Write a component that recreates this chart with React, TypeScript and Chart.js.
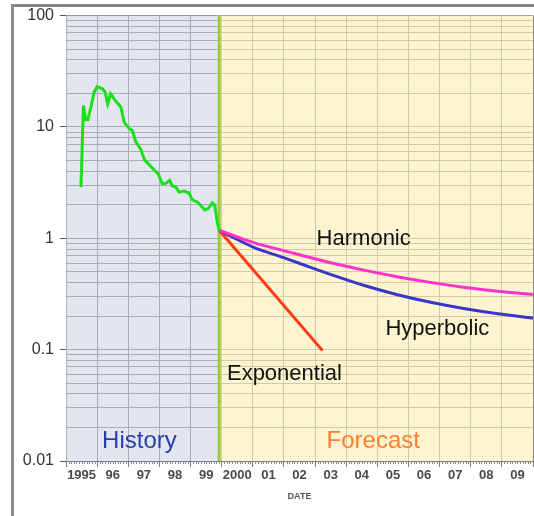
import React, { useEffect, useRef } from "react";
import { Chart, registerables } from "chart.js";

Chart.register(...registerables);

const FONT = '"Liberation Sans", Arial, Helvetica, sans-serif';

// X axis: year boundaries and their labels (label sits in the middle of each year)
const yearTicks = [1995, 1996, 1997, 1998, 1999, 2000, 2001, 2002, 2003, 2004, 2005, 2006, 2007, 2008, 2009, 2010];
const yearLabels = ["1995", "96", "97", "98", "99", "2000", "01", "02", "03", "04", "05", "06", "07", "08", "09", ""];

// Y axis: log decades and labels
const yDecades = [0.01, 0.1, 1, 10, 100];
const yDecadeLabels = ["0.01", "0.1", "1", "10", "100"];
const yMinorSteps = [1, 2, 3, 4, 5, 6, 7, 8, 9];

// Boundary between history and forecast
const forecastStart = 1999.92;

// History (green)
const historyYears = [
  1995.48, 1995.56, 1995.63, 1995.7, 1995.8, 1995.9, 1996.0, 1996.06, 1996.17, 1996.26, 1996.34, 1996.43,
  1996.58, 1996.68, 1996.76, 1996.87, 1997.03, 1997.13, 1997.24, 1997.4, 1997.53, 1997.64, 1997.83, 1997.96,
  1998.09, 1998.22, 1998.33, 1998.41, 1998.52, 1998.63, 1998.79, 1998.95, 1999.05, 1999.21, 1999.32, 1999.46,
  1999.57, 1999.7, 1999.78, 1999.86, 1999.92,
];
const historyRates = [
  2.88, 15.6, 11.6, 11.6, 15.1, 20.5, 23.0, 22.7, 22.0, 20.5, 16.1, 19.9,
  17.3, 16.1, 15.1, 11.0, 9.7, 9.3, 7.4, 6.3, 5.0, 4.7, 4.1, 3.8,
  3.1, 3.13, 3.31, 2.95, 2.9, 2.6, 2.66, 2.55, 2.22, 2.12, 1.98, 1.8,
  1.85, 2.08, 1.98, 1.4, 1.18,
];

// Forecasts
const exponentialYears = [1999.92, 2003.24];
const exponentialRates = [1.18, 0.098];

const hyperbolicYears = [1999.92, 2000.5, 2001.03, 2001.99, 2002.47, 2003.54, 2004.61, 2005.68, 2006.75, 2007.82, 2008.88, 2010];
const hyperbolicRates = [1.18, 0.975, 0.83, 0.67, 0.6, 0.47, 0.375, 0.31, 0.265, 0.233, 0.21, 0.192];

const harmonicYears = [1999.92, 2000.5, 2001.03, 2001.99, 2002.47, 2003.54, 2004.61, 2005.68, 2006.75, 2007.82, 2008.88, 2010];
const harmonicRates = [1.18, 1.03, 0.915, 0.775, 0.715, 0.6, 0.515, 0.45, 0.4, 0.362, 0.335, 0.313];

// Text annotations (anchored at data coordinates: left / baseline)
const noteTexts = ["Harmonic", "Hyperbolic", "Exponential", "History", "Forecast"];
const noteYears = [2003.05, 2005.26, 2000.17, 1996.16, 2003.37];
const noteRates = [0.865, 0.135, 0.0532, 0.0131, 0.0131];
const noteColors = ["#111111", "#111111", "#111111", "#2b3ea6", "#ff7f2a"];
const noteSizes = [22, 22, 22, 24, 24];

const toPoints = (xs: number[], ys: number[]) => xs.map((x, i) => ({ x, y: ys[i] }));

const isDecade = (v: number) => Math.abs(Math.log10(v) - Math.round(Math.log10(v))) < 1e-6;

export default function App() {
  const ref = useRef<HTMLCanvasElement | null>(null);

  useEffect(() => {
    if (!ref.current) return;

    const decorPlugin = {
      id: "decor",
      beforeDatasetsDraw(chart: any) {
        const { ctx, chartArea: a, scales } = chart;
        const xs = scales.x.getPixelForValue(forecastStart);
        ctx.save();
        ctx.fillStyle = "rgba(197,205,225,0.5)";
        ctx.fillRect(a.left, a.top, xs - a.left, a.bottom - a.top);
        ctx.fillStyle = "rgba(252,238,183,0.64)";
        ctx.fillRect(xs, a.top, a.right - xs, a.bottom - a.top);
        ctx.strokeStyle = "#9acd32";
        ctx.lineWidth = 3;
        ctx.beginPath();
        ctx.moveTo(xs, a.top);
        ctx.lineTo(xs, a.bottom);
        ctx.stroke();
        ctx.restore();
      },
      afterDatasetsDraw(chart: any) {
        const { ctx, scales } = chart;
        ctx.save();
        ctx.textAlign = "left";
        ctx.textBaseline = "alphabetic";
        noteTexts.forEach((t, i) => {
          ctx.font = `${noteSizes[i]}px ${FONT}`;
          ctx.fillStyle = noteColors[i];
          ctx.fillText(t, scales.x.getPixelForValue(noteYears[i]), scales.y.getPixelForValue(noteRates[i]));
        });
        ctx.restore();
      },
      afterDraw(chart: any) {
        const { ctx, chartArea: a, scales } = chart;
        ctx.save();
        ctx.strokeStyle = "#8a8a8a";
        ctx.lineWidth = 1;
        ctx.beginPath();
        for (let y = 0; y < yearTicks.length - 1; y++) {
          for (let m = 1; m < 12; m++) {
            const px = Math.round(scales.x.getPixelForValue(yearTicks[y] + m / 12)) + 0.5;
            ctx.moveTo(px, a.bottom);
            ctx.lineTo(px, a.bottom + 3);
          }
        }
        ctx.stroke();
        ctx.restore();
      },
    };

    const yTickValues: number[] = [];
    yDecades.forEach((d, i) => {
      if (i === yDecades.length - 1) {
        yTickValues.push(d);
      } else {
        yMinorSteps.forEach((m) => yTickValues.push(m * d));
      }
    });

    const lineDs = (data: any[], color: string) => ({
      data,
      borderColor: color,
      backgroundColor: color,
      borderWidth: 3,
      pointRadius: 0,
      fill: false,
      tension: 0,
      cubicInterpolationMode: "monotone" as const,
    });

    const chart = new Chart(ref.current, {
      type: "line",
      data: {
        datasets: [
          { ...lineDs(toPoints(historyYears, historyRates), "#19e019"), cubicInterpolationMode: "default" as const },
          lineDs(toPoints(harmonicYears, harmonicRates), "#ff33cc"),
          lineDs(toPoints(hyperbolicYears, hyperbolicRates), "#3b35c8"),
          { ...lineDs(toPoints(exponentialYears, exponentialRates), "#ff3a10"), cubicInterpolationMode: "default" as const },
        ],
      },
      options: {
        animation: false,
        responsive: true,
        maintainAspectRatio: false,
        devicePixelRatio: 1,
        events: [],
        layout: { padding: { top: 15, left: 0, right: 0, bottom: 0 } },
        plugins: { legend: { display: false }, tooltip: { enabled: false }, title: { display: false } },
        scales: {
          x: {
            type: "linear",
            min: 1995,
            max: 2010,
            afterBuildTicks: (s: any) => {
              s.ticks = yearTicks.map((v) => ({ value: v }));
            },
            afterFit: (s: any) => {
              s.height = 55;
            },
            ticks: {
              autoSkip: false,
              maxRotation: 0,
              minRotation: 0,
              labelOffset: 15.6,
              padding: 1,
              color: "#4a4a4a",
              font: { family: FONT, size: 13, weight: "bold" },
              callback: (v: any) => {
                const i = yearTicks.indexOf(Number(v));
                return i >= 0 ? yearLabels[i] : "";
              },
            },
            grid: { color: "#8c8c8c", lineWidth: 1, tickLength: 6, tickColor: "#7a7a7a" },
            border: { color: "#7a7a7a" },
            title: {
              display: true,
              text: "DATE",
              color: "#555555",
              font: { family: FONT, size: 9, weight: "bold" },
              padding: { top: 2, bottom: 14.5 },
            },
          },
          y: {
            type: "logarithmic",
            min: 0.01,
            max: 100,
            afterBuildTicks: (s: any) => {
              s.ticks = yTickValues.map((v) => ({ value: v }));
            },
            afterFit: (s: any) => {
              s.width = 66;
            },
            ticks: {
              autoSkip: false,
              padding: 6,
              color: "#333333",
              font: { family: FONT, size: 16 },
              callback: (v: any) => {
                const n = Number(v);
                if (!isDecade(n)) return "";
                const i = yDecades.findIndex((d) => Math.abs(Math.log10(d) - Math.log10(n)) < 1e-6);
                return i >= 0 ? yDecadeLabels[i] : "";
              },
            },
            grid: {
              color: "#8c8c8c",
              lineWidth: 1,
              tickLength: 6,
              tickColor: (c: any) => (c.tick && isDecade(c.tick.value) ? "#555555" : "rgba(0,0,0,0)"),
            },
            border: { color: "#9a9a9a" },
          },
        },
      },
      plugins: [decorPlugin],
    });

    return () => chart.destroy();
  }, []);

  return (
    <div style={{ position: "absolute", left: 0, top: 0, width: 534, height: 516, background: "#ffffff", overflow: "hidden" }}>
      <div style={{ position: "absolute", left: 11, top: 4, width: 523, height: 3, background: "#858585" }} />
      <div style={{ position: "absolute", left: 11, top: 4, width: 3, height: 512, background: "#8c8c8c" }} />
      <div style={{ position: "absolute", left: 0, top: 0, width: 534, height: 516 }}>
        <canvas ref={ref} />
      </div>
    </div>
  );
}
